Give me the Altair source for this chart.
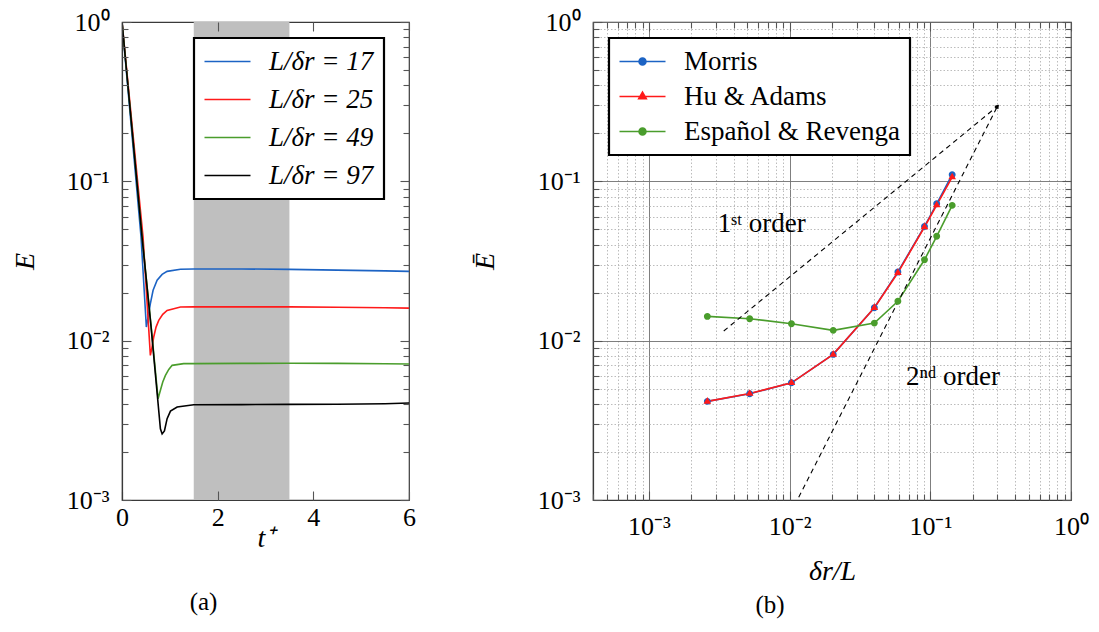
import math
import altair as alt
import pandas as pd

FONT = "Liberation Serif"

# ---------------- panel (a) data ----------------
series_a = ["L/δr = 17", "L/δr = 25", "L/δr = 49", "L/δr = 97"]
colors_a = ["#1c63c4", "#ff1a1a", "#4a9d2c", "#000000"]

t_17 = [0.0, 0.398, 0.509, 0.558, 0.593, 0.650, 0.734, 0.839, 0.943, 1.222, 1.5, 2.5, 3.5, 4.5, 5.5, 6.0]
E_17 = [1.0, 0.0447, 0.01217, 0.01476, 0.01706, 0.0207, 0.02393, 0.02606, 0.02723, 0.02805,
        0.0282, 0.0282, 0.0280, 0.0277, 0.0274, 0.0272]

t_25 = [0.0, 0.44, 0.593, 0.628, 0.663, 0.712, 0.768, 0.852, 0.943, 1.222, 1.5, 2.5, 3.5, 4.5, 5.5, 6.0]
E_25 = [1.0, 0.0447, 0.00809, 0.00912, 0.01054, 0.01217, 0.0134, 0.01462, 0.01549, 0.01626,
        0.0163, 0.0163, 0.0163, 0.0162, 0.0161, 0.0160]

t_49 = [0.0, 0.42, 0.61, 0.754, 0.803, 0.852, 0.908, 0.978, 1.048, 1.29, 1.5, 2.5, 3.5, 4.5, 5.5, 6.0]
E_49 = [1.0, 0.0447, 0.0122, 0.00432, 0.00488, 0.0055, 0.00605, 0.0066, 0.0070, 0.00718,
        0.00718, 0.0072, 0.00722, 0.0072, 0.00716, 0.00713]

t_97 = [0.0, 0.419, 0.608, 0.803, 0.839, 0.887, 0.943, 1.013, 1.153, 1.5, 2.5, 3.5, 4.5, 5.5, 6.0]
E_97 = [1.0, 0.0447, 0.01216, 0.0028, 0.0026, 0.00271, 0.00324, 0.00361, 0.00383,
        0.00396, 0.00397, 0.00398, 0.00399, 0.00402, 0.00406]

band_t = [1.5, 3.5]
t_limits = [0, 6]
t_ticks = [0, 2, 4, 6]
E_limits = [1e-3, 1.0]

# ---------------- panel (b) data ----------------
methods = ["Morris", "Hu & Adams", "Español & Revenga"]
colors_b = ["#1c63c4", "#ff1a1a", "#4a9d2c"]
dr_L = [0.0026, 0.0052, 0.0103, 0.0204, 0.04, 0.0588, 0.0909, 0.111, 0.143]
E_morris = [0.00416, 0.00464, 0.00544, 0.0082, 0.0161, 0.0270, 0.0521, 0.0723, 0.110]
E_hu = [0.00416, 0.00466, 0.00544, 0.0082, 0.0161, 0.0267, 0.0517, 0.0710, 0.1064]
E_espanol = [0.0142, 0.01374, 0.01277, 0.01161, 0.01289, 0.01766, 0.0322, 0.0452, 0.0707]

order_names = ["1st", "2nd"]
ord1_x = [0.0034, 0.3]
ord1_y = [0.0115, 0.296]
ord2_x = [0.0116, 0.3]
ord2_y = [0.00104, 0.296]
arrow_angle = [50, 27]   # orientation of the small arrow tips at the line ends

ann_text = ["1ˢᵗ order", "2ⁿᵈ order"]
ann_x = [0.00308, 0.0671]
ann_y = [0.048, 0.00528]

x_limits_b = [4e-4, 1.0]

major_log = [1e-3, 1e-2, 1e-1, 1.0]
major_log_labels = ["10⁻³", "10⁻²", "10⁻¹", "10⁰"]
minor_y = [k * 10.0 ** e for e in (-3, -2, -1) for k in range(2, 10)]
minor_x = [k * 1e-4 for k in range(4, 10)] + minor_y

# symbol paths (normalised units) for legends / markers
path_line = "M-2,0H2"
path_circle = "M-2,0H2M0.3,0A0.3,0.3,0,1,1,-0.3,0A0.3,0.3,0,1,1,0.3,0Z"
path_tri = "M-2,0H2M0,-0.38L0.33,0.2L-0.33,0.2Z"
shapes_b = [path_circle, path_tri, path_circle]

TICK_COLOR = "#555555"
DOMAIN_COLOR = "#3a3a3a"
MAJOR, MINOR = 9, 6


def log_label_expr(values, labels):
    parts = [f"round(log(datum.value)/LN10) == {round(math.log10(v))} ? '{lab}'"
             for v, lab in zip(values, labels)]
    return " : ".join(parts) + " : ''"


def tick_axis(orient, values, tick):
    """ticks only, drawn inside the plot (axis shifted inward by its tick length)"""
    return alt.Axis(orient=orient, values=values, ticks=True, tickSize=tick, offset=-tick,
                    tickColor=TICK_COLOR, tickWidth=1.1, domain=False, labels=False,
                    grid=False, title=None, zindex=1)


def grid_axis(orient, values, color, dash):
    return alt.Axis(orient=orient, values=values, ticks=False, domain=False, labels=False,
                    grid=True, gridColor=color, gridWidth=0.9, gridDash=dash, title=None,
                    zindex=0)


def label_axis(orient, values, title, label_pad, title_pad, label_expr=None, fmt=None,
               grid=False, zindex=1):
    kw = dict(orient=orient, values=values, ticks=False, domain=True, domainColor=DOMAIN_COLOR,
              domainWidth=1.2, labels=True, labelFont=FONT, labelFontSize=26,
              labelColor="black", labelPadding=label_pad, labelOverlap=False,
              labelFlush=False, title=title, titleFont=FONT, titleFontSize=28,
              titleFontStyle="italic", titleFontWeight="normal", titleColor="black",
              titlePadding=title_pad, grid=grid, zindex=zindex)
    if grid:
        kw.update(gridColor="#707070", gridWidth=0.9)
    if label_expr:
        kw["labelExpr"] = label_expr
    if fmt:
        kw["format"] = fmt
    return alt.Axis(**kw)


lab_expr = log_label_expr(major_log, major_log_labels)

# ---------------- panel (a) ----------------
rows_a = []
for name, ts, es in zip(series_a, [t_17, t_25, t_49, t_97], [E_17, E_25, E_49, E_97]):
    for t, e in zip(ts, es):
        rows_a.append({"series": name, "t": t, "E": e})
df_a = pd.DataFrame(rows_a)
band_df = pd.DataFrame({"t0": [band_t[0]], "t1": [band_t[1]],
                        "lo": [E_limits[0]], "hi": [E_limits[1]]})

xs_a = alt.Scale(domain=t_limits, nice=False, zero=False)
ys = alt.Scale(type="log", domain=E_limits, nice=False)

leg_a = alt.Legend(title=None, orient="none", legendX=72, legendY=16,
                   symbolType=path_line, symbolSize=529, symbolStrokeWidth=1.6,
                   symbolOffset=10, labelOffset=28, labelFont=FONT, labelFontSize=27,
                   labelFontStyle="italic", labelColor="black", labelLimit=400,
                   rowPadding=10, padding=10, strokeColor="black", fillColor="white")

band = alt.Chart(band_df).mark_rect(color="#bfbfbf").encode(
    x=alt.X("t0:Q", scale=xs_a, axis=None), x2="t1:Q",
    y=alt.Y("lo:Q", scale=ys, axis=None), y2="hi:Q")

lines_a = alt.Chart(df_a).mark_line(strokeWidth=1.6, clip=True).encode(
    x=alt.X("t:Q", scale=xs_a,
            axis=label_axis("bottom", t_ticks, "t⁺", 4, -6, fmt="d")),
    y=alt.Y("E:Q", scale=ys,
            axis=label_axis("left", major_log, "E", 13, 27, label_expr=lab_expr)),
    color=alt.Color("series:N", scale=alt.Scale(domain=series_a, range=colors_a), legend=leg_a))

hid_a = alt.Chart(df_a).mark_line(opacity=0)
h1a = hid_a.encode(x=alt.X("t:Q", scale=xs_a, axis=tick_axis("bottom", t_ticks, MAJOR)),
                   y=alt.Y("E:Q", scale=ys, axis=tick_axis("left", major_log, MAJOR)))
h2a = hid_a.encode(x=alt.X("t:Q", scale=xs_a, axis=tick_axis("top", t_ticks, MAJOR)),
                   y=alt.Y("E:Q", scale=ys, axis=tick_axis("left", minor_y, MINOR)))
h3a = hid_a.encode(x=alt.X("t:Q", scale=xs_a, axis=None),
                   y=alt.Y("E:Q", scale=ys, axis=tick_axis("right", major_log, MAJOR)))
h4a = hid_a.encode(x=alt.X("t:Q", scale=xs_a, axis=None),
                   y=alt.Y("E:Q", scale=ys, axis=tick_axis("right", minor_y, MINOR)))

panel_a = alt.layer(band, lines_a, h1a, h2a, h3a, h4a).resolve_axis(
    x="independent", y="independent").properties(
    width=287, height=478,
    title=alt.TitleParams("(a)", orient="bottom", anchor="middle", frame="group", dx=-62,
                          offset=38, font=FONT, fontSize=25, fontWeight="normal", color="black"))

# ---------------- panel (b) ----------------
rows_b = []
for name, es in zip(methods, [E_morris, E_hu, E_espanol]):
    for x, e in zip(dr_L, es):
        rows_b.append({"method": name, "x": x, "E": e})
df_b = pd.DataFrame(rows_b)

rows_o = []
for name, xs_, ys_ in zip(order_names, [ord1_x, ord2_x], [ord1_y, ord2_y]):
    for x, y in zip(xs_, ys_):
        rows_o.append({"line": name, "x": x, "E": y})
df_o = pd.DataFrame(rows_o)
df_tip = pd.DataFrame({"line": order_names, "x": [ord1_x[-1], ord2_x[-1]],
                       "E": [ord1_y[-1], ord2_y[-1]], "angle": arrow_angle})
df_t = pd.DataFrame({"label": ann_text, "x": ann_x, "E": ann_y})

xs_b = alt.Scale(type="log", domain=x_limits_b, nice=False)
col_b = alt.Scale(domain=methods, range=colors_b)

leg_b = alt.Legend(title=None, orient="none", legendX=16, legendY=16,
                   symbolSize=529, symbolStrokeWidth=1.6,
                   symbolOffset=10, labelOffset=28, labelFont=FONT, labelFontSize=27,
                   labelColor="black", labelLimit=400,
                   rowPadding=7, padding=10, strokeColor="black", fillColor="white")

lines_b = alt.Chart(df_b).mark_line(strokeWidth=1.6).encode(
    x=alt.X("x:Q", scale=xs_b,
            axis=label_axis("bottom", major_log, "δr/L", 13, 18, label_expr=lab_expr,
                            grid=True, zindex=0)),
    y=alt.Y("E:Q", scale=ys,
            axis=label_axis("left", major_log, "Ē", 13, 38, label_expr=lab_expr,
                            grid=True, zindex=0)),
    color=alt.Color("method:N", scale=col_b, legend=leg_b),
    detail="method:N")

hid_b = alt.Chart(df_b).mark_line(opacity=0)
h1b = hid_b.encode(x=alt.X("x:Q", scale=xs_b, axis=grid_axis("bottom", minor_x, "#b4b4b4", [1.5, 2])),
                   y=alt.Y("E:Q", scale=ys, axis=grid_axis("left", minor_y, "#b4b4b4", [1.5, 2])))
h2b = hid_b.encode(x=alt.X("x:Q", scale=xs_b, axis=tick_axis("bottom", major_log, MAJOR)),
                   y=alt.Y("E:Q", scale=ys, axis=tick_axis("left", major_log, MAJOR)))
h3b = hid_b.encode(x=alt.X("x:Q", scale=xs_b, axis=tick_axis("bottom", minor_x, MINOR)),
                   y=alt.Y("E:Q", scale=ys, axis=tick_axis("left", minor_y, MINOR)))
h4b = hid_b.encode(x=alt.X("x:Q", scale=xs_b, axis=tick_axis("top", major_log, MAJOR)),
                   y=alt.Y("E:Q", scale=ys, axis=tick_axis("right", major_log, MAJOR)))
h5b = hid_b.encode(x=alt.X("x:Q", scale=xs_b, axis=tick_axis("top", minor_x, MINOR)),
                   y=alt.Y("E:Q", scale=ys, axis=tick_axis("right", minor_y, MINOR)))

dashed = alt.Chart(df_o).mark_line(color="black", strokeWidth=1.1, strokeDash=[5, 4], clip=True).encode(
    x=alt.X("x:Q", scale=xs_b, axis=None),
    y=alt.Y("E:Q", scale=ys, axis=None),
    detail="line:N")

tips = alt.Chart(df_tip).mark_point(shape="triangle-up", filled=True, size=22, color="black",
                                     opacity=1).encode(
    x=alt.X("x:Q", scale=xs_b, axis=None),
    y=alt.Y("E:Q", scale=ys, axis=None),
    angle=alt.Angle("angle:Q", scale=None))

pts = alt.Chart(df_b).mark_point(filled=True, size=529, opacity=1).encode(
    x=alt.X("x:Q", scale=xs_b, axis=None),
    y=alt.Y("E:Q", scale=ys, axis=None),
    color=alt.Color("method:N", scale=col_b, legend=leg_b),
    shape=alt.Shape("method:N", scale=alt.Scale(domain=methods, range=shapes_b), legend=leg_b))

texts = alt.Chart(df_t).mark_text(align="left", baseline="alphabetic", font=FONT,
                                  fontSize=27, color="black").encode(
    x=alt.X("x:Q", scale=xs_b, axis=None),
    y=alt.Y("E:Q", scale=ys, axis=None),
    text="label:N")

panel_b = alt.layer(lines_b, h1b, dashed, tips, pts, texts, h2b, h3b, h4b, h5b).resolve_axis(
    x="independent", y="independent").properties(
    width=478, height=478,
    title=alt.TitleParams("(b)", orient="bottom", anchor="middle", frame="group", dx=-62,
                          offset=8, font=FONT, fontSize=25, fontWeight="normal", color="black"))

chart = alt.hconcat(panel_a, panel_b, spacing=53).resolve_scale(
    color="independent", shape="independent").resolve_legend(
    color="independent", shape="independent").properties(
    padding={"left": 2, "top": 0, "right": 0, "bottom": 0}).configure_view(
    stroke=DOMAIN_COLOR, strokeWidth=1.2).configure_legend(strokeWidth=2.2, cornerRadius=0)

chart.save("out.html", embed_options={"renderer": "svg", "actions": False})
